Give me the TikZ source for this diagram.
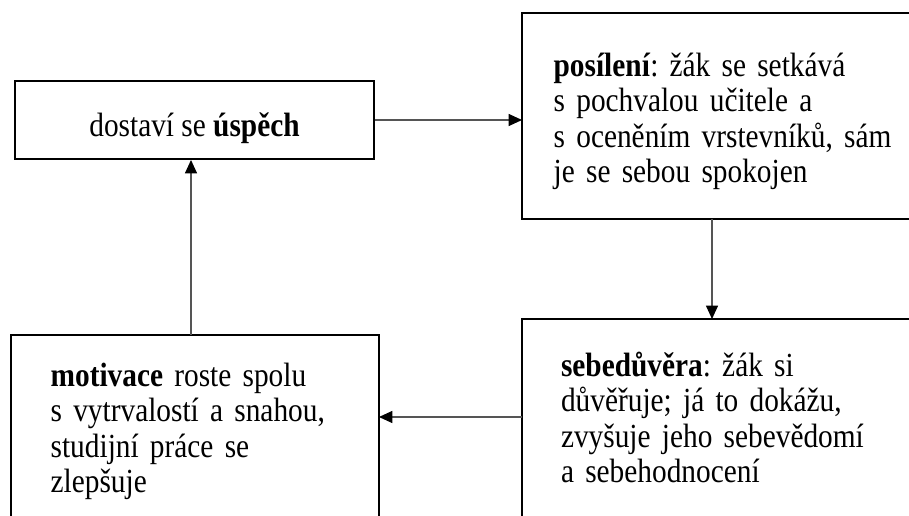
\documentclass[tikz,border=0pt]{standalone}
\usepackage{fontspec}
\setmainfont{Liberation Serif}[FakeStretch=0.87]
\usepackage{xcolor}
\definecolor{arrow-gray}{HTML}{555555}
\usepackage{tikz}
\usetikzlibrary{
  arrows.meta,
  positioning,
  calc
}
\frenchspacing
\newcommand\topstrut[1]{\rule{0pt}{#1}}
\newcommand\botstrut[1]{\rule[-#1]{0pt}{0pt}}

\begin{document}
\begin{tikzpicture}[
    x=0.75pt, y=-0.75pt,
    stage/.style={
      rectangle,
      line width=1.5pt,
      anchor=north west,
      font=\fontsize{25.3pt}{26.6pt}\selectfont,
      align=left
    },
    frame/.style={
      draw=black,
      line width=1.5pt
    },
    arrow/.style={
      -{Triangle[length=10pt, width=9pt, color=black]},
      line width=0.8pt,
      color=arrow-gray
    }
  ]
    \clip (0,0) rectangle (909,516);

    % Four stages of the cycle
    \node[stage, draw, minimum width=269.25pt, minimum height=58.5pt, align=center]
      (success) at (14,80) {\topstrut{29.5pt}dostaví se \textbf{úspěch}};
    \node[stage, text width=300pt, inner xsep=23pt, minimum height=153pt]
      (reinforce) at (522,13) {\topstrut{25.4pt}\textbf{posílení}: žák se setkává\\s pochvalou učitele a\\s oceněním vrstevníků, sám\\je se sebou spokojen};
    \node[stage, text width=300pt, inner xsep=28.5pt, minimum height=180pt]
      (confidence) at (522,319) {\topstrut{25.4pt}\textbf{sebedůvěra}: žák si\\důvěřuje; já to dokážu,\\zvyšuje jeho sebevědomí\\a sebehodnocení\botstrut{41.5pt}};
    \node[stage, text width=216.5pt, inner xsep=29pt, minimum height=165pt]
      (motivation) at (11,335) {\topstrut{25.4pt}\textbf{motivace} roste spolu\\s vytrvalostí a snahou,\\studijní práce se\\zlepšuje\botstrut{35.5pt}};

    % Box outlines running off the page
    \draw[frame] (reinforce.north east) -- (reinforce.north west) -- (reinforce.south west) -- (reinforce.south east);
    \draw[frame] (confidence.north east) -- (confidence.north west) -- (confidence.south west);
    \draw[frame] (motivation.south east) -- (motivation.north east) -- (motivation.north west) -- (motivation.south west);

    % Arrows round the cycle
    \draw[arrow] (success.east) -- (success.east -| reinforce.west);

    \coordinate (down) at ($(reinforce.south west)+(190,0)$);
    \draw[arrow] (down) -- (down |- confidence.north);

    \coordinate (back) at ($(confidence.north west)+(0,98)$);
    \draw[arrow] (back) -- (back -| motivation.east);

    \coordinate (up) at ($(motivation.north west)+(180,0)$);
    \draw[arrow] (up) -- (up |- success.south);
  \end{tikzpicture}
\end{document}
